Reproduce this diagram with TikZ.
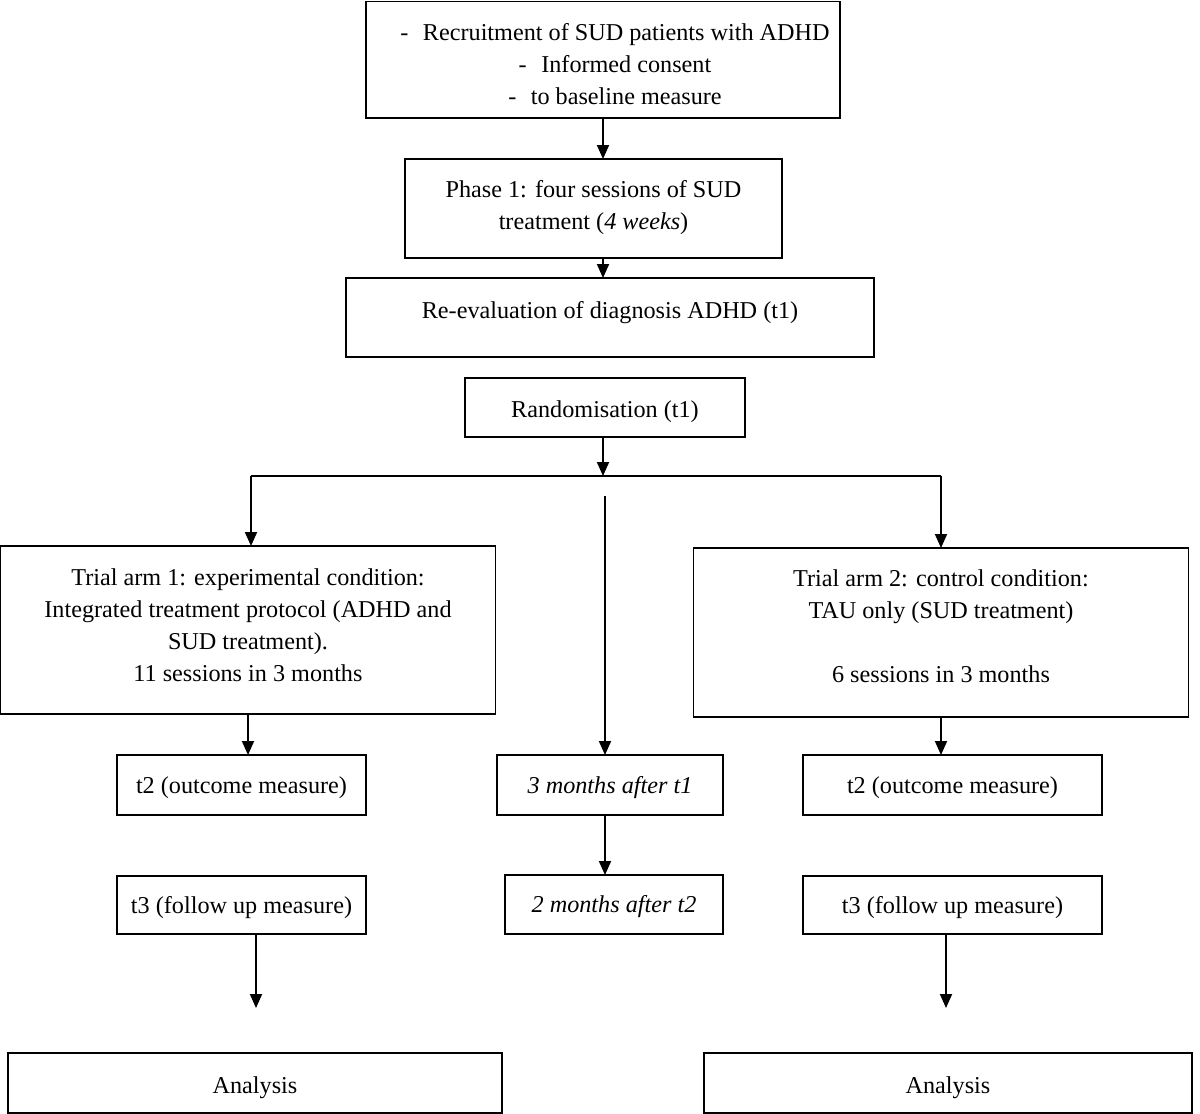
\documentclass[tikz,border=0pt]{standalone}
\usepackage{fontspec}
\setmainfont{Liberation Serif}
\usetikzlibrary{arrows.meta}
\newcommand\boxtxt[2]{\raisebox{#1}[\height][\depth]{\begin{tabular}{@{}c@{}}#2\end{tabular}}}
\begin{document}
\begin{tikzpicture}[x=1pt,y=-1pt,
 box/.style={draw, line width=1.8pt, inner sep=0pt, outer sep=0pt, align=center, font=\fontsize{24.2}{32}\selectfont},
 arr/.style={line width=1.9pt, -{Triangle[width=12pt,length=14pt]}},
 ln/.style={line width=1.9pt}]
\useasboundingbox (0,0) rectangle (1200,1114);
\node[box, minimum width=474, minimum height=116.5] (recruit) at (603,59.75) {\raisebox{-5.9pt}[\height][\depth]{\begin{tabular}{@{\hspace{24pt}}c@{}}-\hspace{0.6em}Recruitment of SUD patients with ADHD\\-\hspace{0.6em}Informed consent\\-\hspace{0.6em}to baseline measure\end{tabular}}};
\node[box, minimum width=377, minimum height=99] (phase) at (593.5,208.5) {\boxtxt{1pt}{Phase 1: four sessions of SUD\\treatment (\textit{4 weeks})}};
\node[box, minimum width=528, minimum height=79] (reeval) at (610,317.5) {\boxtxt{5.9pt}{Re-evaluation of diagnosis ADHD (t1)}};
\node[box, minimum width=280, minimum height=59] (random) at (605,407.5) {\boxtxt{-3.1pt}{Randomisation (t1)}};
\node[box, minimum width=495, minimum height=168] (arm1) at (248,630) {\boxtxt{3.4pt}{Trial arm 1: experimental condition:\\Integrated treatment protocol (ADHD and\\SUD treatment).\\11 sessions in 3 months}};
\node[box, minimum width=495, minimum height=169] (arm2) at (941,632.5) {\boxtxt{4.9pt}{Trial arm 2: control condition:\\TAU only (SUD treatment)\\ \\6 sessions in 3 months}};
\node[box, minimum width=249, minimum height=60] (t2a) at (241.5,785) {\boxtxt{-1.6pt}{t2 (outcome measure)}};
\node[box, minimum width=226, minimum height=60] (mid1) at (610,785) {\boxtxt{-1.6pt}{\textit{3 months after t1}}};
\node[box, minimum width=299, minimum height=60] (t2b) at (952.5,785) {\boxtxt{-1.6pt}{t2 (outcome measure)}};
\node[box, minimum width=249, minimum height=58] (t3a) at (241.5,905) {\boxtxt{-1.6pt}{t3 (follow up measure)}};
\node[box, minimum width=218, minimum height=59] (mid2) at (614,904.5) {\boxtxt{-2pt}{\textit{2 months after t2}}};
\node[box, minimum width=299, minimum height=58] (t3b) at (952.5,905) {\boxtxt{-1.6pt}{t3 (follow up measure)}};
\node[box, minimum width=494, minimum height=60] (ana1) at (255,1083) {\boxtxt{-3.6pt}{Analysis}};
\node[box, minimum width=488, minimum height=60] (ana2) at (948,1083) {\boxtxt{-3.6pt}{Analysis}};
\coordinate (split) at (603,476);
\coordinate (L) at (251,476);
\coordinate (R) at (941,476);
\coordinate (c0) at (605,496);
\coordinate (e1) at (256,1008);
\coordinate (e2) at (946,1008);
\draw[arr] (recruit.south) -- (recruit.south |- phase.north);
\draw[arr] (phase.south -| recruit.south) -- (reeval.north -| recruit.south);
\draw[arr] (random.south -| split) -- (split);
\draw[ln] (L) -- (R);
\draw[arr] (L) -- (L |- arm1.north);
\draw[arr] (R) -- (R |- arm2.north);
\draw[arr] (c0) -- (c0 |- mid1.north);
\draw[arr] (arm1.south) -- (arm1.south |- t2a.north);
\draw[arr] (arm2.south) -- (arm2.south |- t2b.north);
\draw[arr] (mid1.south -| c0) -- (mid2.north -| c0);
\draw[arr] (t3a.south -| e1) -- (e1);
\draw[arr] (t3b.south -| e2) -- (e2);
\end{tikzpicture}
\end{document}
